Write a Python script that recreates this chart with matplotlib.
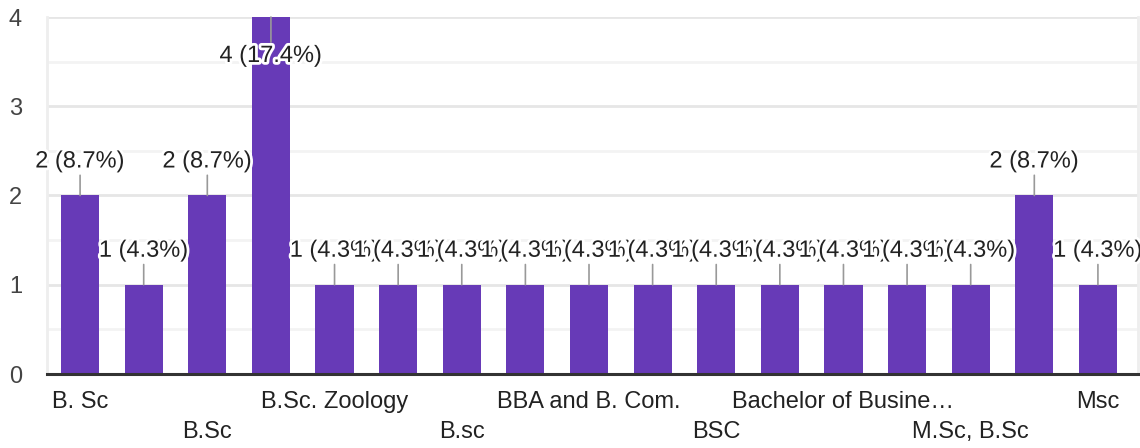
import matplotlib.pyplot as plt
import matplotlib.patheffects as pe
from matplotlib.ticker import MultipleLocator

plt.rcParams["font.family"] = ["Liberation Sans", "DejaVu Sans"]

categories = [
    "B. Sc", "B.Com", "B.Sc", "B.Sc.", "B.Sc. Zoology", "B.Tech", "B.sc",
    "BA", "BBA and B. Com.", "BCA", "BSC", "BSc",
    "Bachelor of Business Administration", "M.A", "M.Sc, B.Sc", "M.Tech", "Msc",
]
counts = [2, 1, 2, 4, 1, 1, 1, 1, 1, 1, 1, 1, 1, 1, 1, 2, 1]
total = sum(counts)

fig = plt.figure(figsize=(11.4, 4.48), dpi=100)
ax = fig.add_axes([47 / 1140, 74 / 448, 1091 / 1140, 357 / 448])

ax.bar(range(len(counts)), counts, width=0.6, color="#673ab7", zorder=2)
ax.set_xlim(-0.52, len(counts) - 1 + 0.63)
ax.set_ylim(0, 4)

ax.yaxis.set_major_locator(MultipleLocator(1))
ax.yaxis.set_minor_locator(MultipleLocator(0.5))
ax.grid(axis="y", which="major", color="#e6e6e6", lw=2, zorder=0)
ax.grid(axis="y", which="minor", color="#f3f3f3", lw=2, zorder=0)
ax.tick_params(axis="y", which="both", length=0, pad=18, labelsize=17, labelcolor="#444444")
ax.set_xticks([])
ax.spines["top"].set_visible(False)
for side in ["left", "right"]:
    ax.spines[side].set_color("#eeeeee")
    ax.spines[side].set_linewidth(2)
ax.spines["bottom"].set_color("#333333")
ax.spines["bottom"].set_linewidth(2.2)
ax.spines["bottom"].set_zorder(3)

halo = [pe.Stroke(linewidth=4, foreground="white"), pe.Normal()]
ymax = ax.get_ylim()[1]
for i, v in enumerate(counts):
    label = f"{v} ({v / total * 100:.1f}%)"
    dy = 34 if v < ymax else -39
    ax.annotate(
        label,
        xy=(i, v),
        xytext=(0, dy),
        textcoords="offset pixels",
        ha="center",
        va="center",
        fontsize=17,
        color="#222222",
        path_effects=halo,
        arrowprops=dict(arrowstyle="-", color="#999999", lw=1.2, shrinkA=0, shrinkB=0),
        zorder=4 + i,
    )

for i, name in enumerate(categories):
    if i % 2:
        continue
    if len(name) > 19:
        name = name[:18] + "…"
    row = (i // 2) % 2
    ax.annotate(
        name,
        xy=(i, 0),
        xycoords=("data", "axes fraction"),
        xytext=(0, -17 - 30 * row),
        textcoords="offset pixels",
        ha="center",
        va="top",
        fontsize=17,
        color="#222222",
        annotation_clip=False,
    )

fig.savefig("out.png", dpi=100)
